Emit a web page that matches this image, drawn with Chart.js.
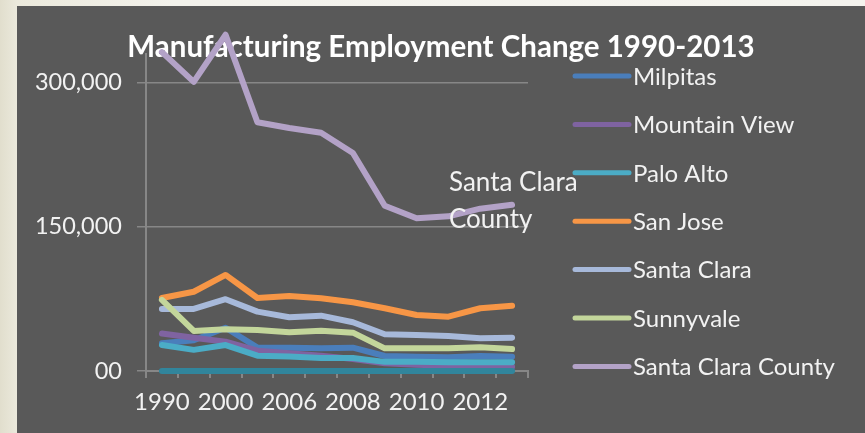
<!DOCTYPE html>
<html>
<head>
<meta charset="utf-8">
<title>Manufacturing Employment Change 1990-2013</title>
<script src="https://cdn.jsdelivr.net/npm/chart.js@4"></script>
<style>
  html, body { margin: 0; padding: 0; }
  body {
    width: 865px; height: 433px; overflow: hidden; position: relative;
    background: linear-gradient(90deg, #e1decd 0%, #ebe9dc 2%, #f3f2ec 20%, #f4f3ee 100%);
  }
  #panel {
    position: absolute; left: 17px; top: 6px; width: 848px; height: 427px;
    background: #595959;
  }
</style>
</head>
<body>
<div id="panel"><canvas id="chart" width="848" height="427"></canvas></div>
<script>
  "use strict";

  // Years on the x axis (every other one gets a label)
  var years = ["1990", "1995", "2000", "2005", "2006", "2007", "2008", "2009", "2010", "2011", "2012", "2013"];

  // Manufacturing jobs per city
  var milpitas = [29000, 32000, 45000, 24500, 24300, 23600, 24300, 15600, 14900, 14200, 15600, 14900];
  var mountainView = [39000, 34700, 30500, 21200, 18400, 16000, 12500, 8000, 6500, 5500, 5000, 4500];
  var paloAlto = [27000, 22000, 27000, 16000, 15000, 13500, 13500, 9500, 9500, 9000, 9000, 9000];
  var sanJose = [76000, 82500, 100000, 76000, 78000, 75700, 71500, 65300, 58300, 56600, 65300, 68000];
  var santaClara = [64600, 64600, 74700, 61800, 56000, 57600, 50700, 38200, 37500, 36500, 34000, 34700];
  var sunnyvale = [74000, 41700, 43400, 42700, 40300, 42000, 39900, 23600, 23600, 23600, 24600, 22900];
  var county = [332000, 301000, 350000, 259000, 253000, 248000, 227000, 172000, 159000, 161000, 169000, 173000];
  var unlisted = [0, 0, 0, 0, 0, 0, 0, 0, 0, 0, 0, 0];

  var seriesNames = ["Milpitas", "Mountain View", "Palo Alto", "San Jose", "Santa Clara", "Sunnyvale", "Santa Clara County", ""];
  var seriesColors = ["#4a7ebb", "#7f63a1", "#4bacc6", "#f79646", "#a7b9da", "#c3d69b", "#b3a2c7", "#31859c"];

  var yTickValues = [0, 150000, 300000];
  var yTickLabels = ["00", "150,000", "300,000"];

  var titleText = "Manufacturing Employment Change 1990-2013";
  var calloutLines = ["Santa Clara", "County"];

  var FONT = "Lato, 'Open Sans', sans-serif";
  var TEXT = "#f2f2f2";
  var GRID = "#878787";

  var allSeries = [milpitas, mountainView, paloAlto, sanJose, santaClara, sunnyvale, county, unlisted];

  var datasets = allSeries.map(function (values, i) {
    return {
      label: seriesNames[i],
      data: values,
      borderColor: seriesColors[i],
      backgroundColor: seriesColors[i],
      borderWidth: 6,
      borderCapStyle: "round",
      borderJoinStyle: "round",
      pointRadius: 0,
      tension: 0,
      clip: false,
      order: -i, // later series drawn on top
    };
  });

  // Title sits behind the lines, callout and legend go on top
  var decorations = {
    id: "decorations",
    beforeDatasetsDraw: function (chart) {
      var ctx = chart.ctx;
      ctx.save();
      ctx.fillStyle = "#ffffff";
      ctx.font = "bold 29.5px " + FONT;
      ctx.textAlign = "center";
      ctx.textBaseline = "middle";
      ctx.fillText(titleText, 424, 41);
      ctx.restore();
    },
    afterDatasetsDraw: function (chart) {
      var ctx = chart.ctx;
      ctx.save();
      ctx.fillStyle = TEXT;
      ctx.textAlign = "left";
      ctx.textBaseline = "middle";

      // label next to the county line
      ctx.font = "26px " + FONT;
      calloutLines.forEach(function (line, i) {
        ctx.fillText(line, 432, 177 + i * 37);
      });

      // legend
      ctx.font = "24px " + FONT;
      ctx.lineCap = "round";
      seriesNames.forEach(function (name, i) {
        if (!name) return;
        var y = 70 + i * 48.4;
        ctx.strokeStyle = seriesColors[i];
        ctx.lineWidth = 5;
        ctx.beginPath();
        ctx.moveTo(558, y);
        ctx.lineTo(612, y);
        ctx.stroke();
        ctx.fillText(name, 616, y + 1);
      });
      ctx.restore();
    },
  };

  new Chart(document.getElementById("chart"), {
    type: "line",
    data: { labels: years, datasets: datasets },
    options: {
      responsive: false,
      animation: false,
      layout: { padding: { top: 48, right: 337, left: 0, bottom: 0 } },
      plugins: {
        legend: { display: false },
        title: { display: false },
        tooltip: { enabled: false },
      },
      scales: {
        x: {
          offset: true,
          grid: {
            offset: true,
            drawOnChartArea: false,
            drawTicks: true,
            tickLength: 7,
            color: GRID,
            lineWidth: 2,
          },
          border: { display: true, color: GRID, width: 2 },
          ticks: {
            color: TEXT,
            font: { family: FONT, size: 24 },
            padding: 10,
            autoSkip: false,
            maxRotation: 0,
            callback: function (val, idx) {
              return idx % 2 === 0 ? years[idx] : "";
            },
          },
          afterFit: function (scale) {
            scale.height = 62;
          },
        },
        y: {
          min: 0,
          max: 330000,
          afterBuildTicks: function (scale) {
            scale.ticks = yTickValues.map(function (v) {
              return { value: v };
            });
          },
          grid: { color: GRID, lineWidth: 1.5, drawTicks: true, tickLength: 9 },
          border: { display: true, color: GRID, width: 2 },
          ticks: {
            color: TEXT,
            font: { family: FONT, size: 23.5 },
            padding: 15,
            callback: function (v) {
              return yTickLabels[yTickValues.indexOf(v)];
            },
          },
          afterFit: function (scale) {
            scale.width = 129;
          },
        },
      },
    },
    plugins: [decorations],
  });
</script>
</body>
</html>
